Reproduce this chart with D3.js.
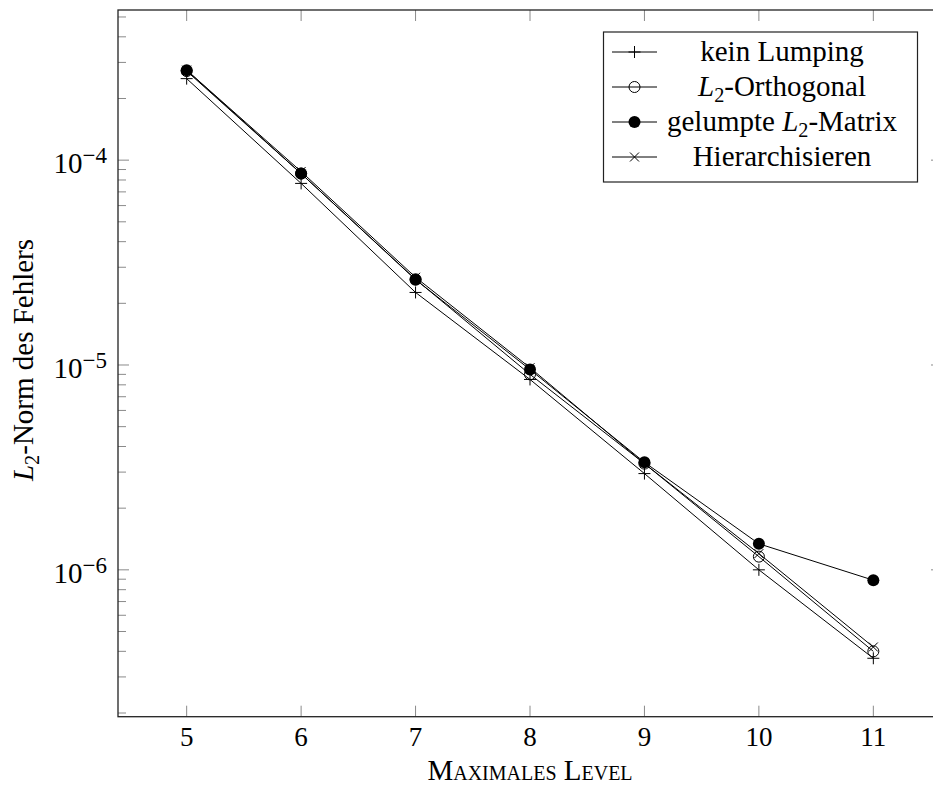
<!DOCTYPE html>
<html>
<head>
<meta charset="utf-8">
<script src="https://cdn.jsdelivr.net/npm/d3@7"></script>
<style>
  body { margin: 0; background: #fff; }
  svg { display: block; font-family: "Liberation Serif", "DejaVu Serif", serif; }
</style>
</head>
<body>
<div id="container"></div>
<script>
//data
var levels = [5, 6, 7, 8, 9, 10, 11];
var keinLumping   = [2.5e-4, 7.7e-5, 2.26e-5, 8.5e-6, 2.95e-6, 1.0e-6, 3.7e-7];
var l2Orthogonal  = [2.72e-4, 8.6e-5, 2.62e-5, 9.0e-6, 3.3e-6, 1.16e-6, 4.0e-7];
var gelumpteL2    = [2.75e-4, 8.6e-5, 2.61e-5, 9.5e-6, 3.35e-6, 1.34e-6, 8.9e-7];
var hierarchisier = [2.75e-4, 8.8e-5, 2.68e-5, 9.7e-6, 3.3e-6, 1.2e-6, 4.2e-7];
var seriesNames = ["kein Lumping", "L2-Orthogonal", "gelumpte L2-Matrix", "Hierarchisieren"];
var yTickExps = [-4, -5, -6];

//chart dimensions (right border is cut off by the window, like the reference)
var width = 933, height = 790;
var pLeft = 118, pRight = 942, pTop = 10, pBottom = 716.7;

var svg = d3.select("#container").append("svg")
  .attr("width", width)
  .attr("height", height);

var x = d3.scaleLinear().domain([4.4, 11.6]).range([pLeft, pRight]);
var y = d3.scaleLog().domain([Math.pow(10, -6.717), Math.pow(10, -3.267)]).range([pBottom, pTop]);

//marker shapes
function markPlus(g) {
  g.append("path").attr("d", "M-6,0H6M0,-6V6").attr("stroke", "#000").attr("stroke-width", 1).attr("fill", "none");
}
function markCircle(g) {
  g.append("circle").attr("r", 5.5).attr("stroke", "#000").attr("stroke-width", 1).attr("fill", "none");
}
function markDot(g) {
  g.append("circle").attr("r", 6).attr("fill", "#000");
}
function markCross(g) {
  g.append("path").attr("d", "M-4.5,-4.5L4.5,4.5M-4.5,4.5L4.5,-4.5").attr("stroke", "#000").attr("stroke-width", 1).attr("fill", "none");
}

var series = [
  {name: seriesNames[0], values: keinLumping, mark: markPlus},
  {name: seriesNames[1], values: l2Orthogonal, mark: markCircle},
  {name: seriesNames[2], values: gelumpteL2, mark: markDot},
  {name: seriesNames[3], values: hierarchisier, mark: markCross}
];

//ticks
var tickColor = "#8a8a8a";
var ticks = svg.append("g").attr("stroke", tickColor).attr("stroke-width", 1);

levels.forEach(function(l) {
  ticks.append("line").attr("x1", x(l)).attr("x2", x(l)).attr("y1", pBottom).attr("y2", pBottom - 11);
  ticks.append("line").attr("x1", x(l)).attr("x2", x(l)).attr("y1", pTop).attr("y2", pTop + 11);
});

for (var e = -7; e <= -3; e++) {
  for (var m = 1; m <= 9; m++) {
    var v = m * Math.pow(10, e);
    if (v < y.domain()[0] || v > y.domain()[1]) continue;
    var len = (m === 1) ? 11 : 8;
    ticks.append("line").attr("x1", pLeft).attr("x2", pLeft + len).attr("y1", y(v)).attr("y2", y(v));
    ticks.append("line").attr("x1", pRight).attr("x2", pRight - len).attr("y1", y(v)).attr("y2", y(v));
  }
}

//axis box
svg.append("rect")
  .attr("x", pLeft).attr("y", pTop)
  .attr("width", pRight - pLeft).attr("height", pBottom - pTop)
  .attr("fill", "none").attr("stroke", "#222").attr("stroke-width", 1.3);

//x tick labels
svg.append("g").selectAll("text")
  .data(levels).enter().append("text")
  .attr("x", function(d) { return x(d); })
  .attr("y", 746)
  .attr("text-anchor", "middle")
  .attr("font-size", 27)
  .text(function(d) { return d; });

//y tick labels
var yl = svg.append("g").selectAll("text")
  .data(yTickExps).enter().append("text")
  .attr("x", 107)
  .attr("y", function(d) { return y(Math.pow(10, d)) + 13; })
  .attr("text-anchor", "end")
  .attr("font-size", 29);
yl.append("tspan").text("10");
yl.append("tspan").attr("dy", -10).attr("font-size", 23).text(function(d) { return "\u2212" + (-d); });

//lines + markers
var line = d3.line()
  .x(function(d, i) { return x(levels[i]); })
  .y(function(d) { return y(d); });

series.forEach(function(s) {
  svg.append("path")
    .datum(s.values)
    .attr("d", line)
    .attr("fill", "none")
    .attr("stroke", "#000")
    .attr("stroke-width", 1);
});
series.forEach(function(s) {
  s.values.forEach(function(v, i) {
    var g = svg.append("g").attr("transform", "translate(" + x(levels[i]) + "," + y(v) + ")");
    s.mark(g);
  });
});

//label helper: writes "L2" with italic L and subscript 2
function richText(t, str, size) {
  var parts = str.split("L2");
  parts.forEach(function(p, i) {
    if (i > 0) {
      t.append("tspan").attr("font-style", "italic").text("L");
      t.append("tspan").attr("font-size", size * 0.7).attr("dy", size * 0.2).text("2");
      t.append("tspan").attr("dy", -size * 0.2).text(p);
    } else if (p.length) {
      t.append("tspan").text(p);
    }
  });
}

//legend
var legend = svg.append("g");
legend.append("rect")
  .attr("x", 603.5).attr("y", 32)
  .attr("width", 314).attr("height", 150)
  .attr("fill", "#fff").attr("stroke", "#222").attr("stroke-width", 1.2);

var rowY = [52, 87, 122, 157];
series.forEach(function(s, i) {
  var ly = rowY[i];
  legend.append("line")
    .attr("x1", 612).attr("x2", 657).attr("y1", ly).attr("y2", ly)
    .attr("stroke", "#000").attr("stroke-width", 1);
  s.mark(legend.append("g").attr("transform", "translate(634.5," + ly + ")"));
  var t = legend.append("text")
    .attr("x", 782).attr("y", ly + 9)
    .attr("text-anchor", "middle")
    .attr("font-size", 29);
  richText(t, s.name, 29);
});

//axis labels
svg.append("text")
  .attr("x", 530).attr("y", 780)
  .attr("text-anchor", "middle")
  .attr("font-size", 29)
  .style("font-variant", "small-caps")
  .text("Maximales Level");

var yt = svg.append("text")
  .attr("transform", "translate(33,360) rotate(-90)")
  .attr("text-anchor", "middle")
  .attr("font-size", 29);
richText(yt, "L2-Norm des Fehlers", 29);
</script>
</body>
</html>
